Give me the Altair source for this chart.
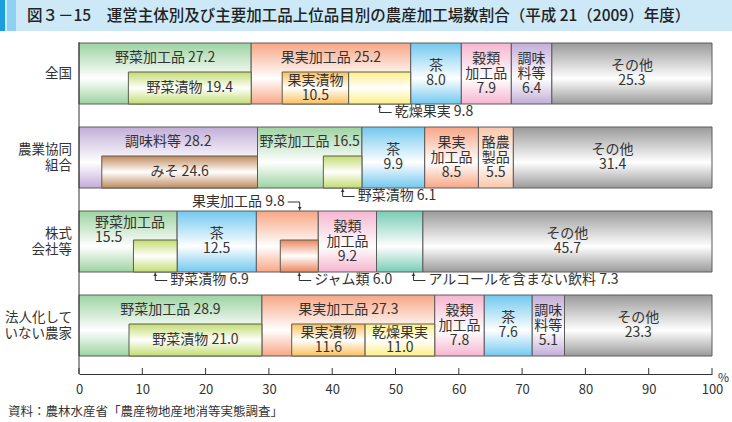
import altair as alt
import pandas as pd

# ---------------- data ----------------
rows = ["全国", "農業協同組合", "株式会社等", "法人化していない農家"]
row_labels = ["全国", "農業協同\n組合", "株式\n会社等", "法人化して\nいない農家"]

seg_names = [
    ["野菜加工品", "果実加工品", "茶", "穀類加工品", "調味料等", "その他"],
    ["調味料等", "野菜加工品", "茶", "果実加工品", "酪農製品", "その他"],
    ["野菜加工品", "茶", "果実加工品", "穀類加工品", "アルコールを含まない飲料", "その他"],
    ["野菜加工品", "果実加工品", "穀類加工品", "茶", "調味料等", "その他"],
]
seg_values = [
    [27.2, 25.2, 8.0, 7.9, 6.4, 25.3],
    [28.2, 16.5, 9.9, 8.5, 5.5, 31.4],
    [15.5, 12.5, 9.8, 9.2, 7.3, 45.7],
    [28.9, 27.3, 7.8, 7.6, 5.1, 23.3],
]
# sub-items drawn inside their parent segment (right aligned)
inner_rows = [0, 0, 0, 1, 1, 2, 2, 3, 3, 3]
inner_parents = ["野菜加工品", "果実加工品", "果実加工品", "調味料等", "野菜加工品",
                 "野菜加工品", "果実加工品", "野菜加工品", "果実加工品", "果実加工品"]
inner_names = ["野菜漬物", "果実漬物", "乾燥果実", "みそ", "野菜漬物",
               "野菜漬物", "ジャム類", "野菜漬物", "果実漬物", "乾燥果実"]
inner_values = [19.4, 10.5, 9.8, 24.6, 6.1, 6.9, 6.0, 21.0, 11.6, 11.0]

tick_values = [0, 10, 20, 30, 40, 50, 60, 70, 80, 90, 100]

title_text = "図３－15　運営主体別及び主要加工品上位品目別の農産加工場数割合（平成 21（2009）年度）"
source_text = "資料：農林水産省「農産物地産地消等実態調査」"

# ---------------- styles ----------------
seg_label_style = [
    ["t", "t", "c", "c", "c", "c"],
    ["t", "t", "c", "c", "c", "c"],
    ["l", "c", "above", "c", "below", "c"],
    ["t", "t", "c", "c", "c", "c"],
]
inner_label_style = ["1", "2", "below", "1", "below", "below", "below", "1", "2", "2"]
callout_frac = {(2, "果実加工品"): 0.7, (2, "アルコールを含まない飲料"): 0.8}
wrap = {"穀類加工品": "穀類\n加工品", "調味料等": "調味\n料等", "果実加工品": "果実\n加工品",
        "酪農製品": "酪農\n製品"}
colors = {
    "野菜加工品": "#9dd3a1", "果実加工品": "#f8a685", "茶": "#72c8ef",
    "穀類加工品": "#f6b5cf", "調味料等": "#c3add8", "その他": "#9a9a9a",
    "酪農製品": "#f9c7a9", "アルコールを含まない飲料": "#78ccb4",
    "野菜漬物": "#c3dc70", "果実漬物": "#fcc05a", "乾燥果実": "#fdef86",
    "みそ": "#bf8a5e", "ジャム類": "#ec8660",
}
FONT = "Noto Sans CJK JP"
TXT = "#333333"
W, H = 633, 332
LH = 15

# ---------------- tables ----------------
outer_rec, lab_rec, call_rec = [], [], []
for r, (names, vals) in enumerate(zip(seg_names, seg_values)):
    s = 0.0
    for k, (n, v) in enumerate(zip(names, vals)):
        e = round(s + v, 3)
        outer_rec.append(dict(row=rows[r], name=n, start=s, end=e))
        st = seg_label_style[r][k]
        vs = f"{v:.1f}"
        if st == "t":
            lab_rec.append(dict(row=rows[r], x=(s + e) / 2, text=f"{n} {vs}", kind="top"))
        elif st == "c":
            lab_rec.append(dict(row=rows[r], x=(s + e) / 2, text=wrap.get(n, n) + "\n" + vs, kind="center"))
        elif st == "l":
            lab_rec.append(dict(row=rows[r], x=s, text=n + "\n" + vs, kind="left"))
        else:
            f = callout_frac.get((r, n), 0.5)
            call_rec.append(dict(row=rows[r], x=s + f * v, text=f"{n} {vs}", dir=st))
        s = e
outer = pd.DataFrame(outer_rec)

inner_rec = []
seg_end = {(o["row"], o["name"]): o["end"] for o in outer_rec}
groups = {}
for i in range(len(inner_names)):
    groups.setdefault((inner_rows[i], inner_parents[i]), []).append(i)
for (r, p), idx in groups.items():
    total = sum(inner_values[i] for i in idx)
    s = seg_end[(rows[r], p)] - total
    for i in idx:
        v = inner_values[i]
        e = s + v
        n = inner_names[i]
        inner_rec.append(dict(row=rows[r], name=n, start=s, end=e))
        st = inner_label_style[i]
        vs = f"{v:.1f}"
        if st == "1":
            lab_rec.append(dict(row=rows[r], x=(s + e) / 2, text=f"{n} {vs}", kind="inner"))
        elif st == "2":
            lab_rec.append(dict(row=rows[r], x=(s + e) / 2, text=n + "\n" + vs, kind="inner"))
        else:
            call_rec.append(dict(row=rows[r], x=(s + e) / 2, text=f"{n} {vs}", dir="below"))
        s = e
inner = pd.DataFrame(inner_rec)
labels = pd.DataFrame(lab_rec)
labels["nl"] = labels["text"].str.count("\n") + 1
callouts = pd.DataFrame(call_rec)

# ---------------- encodings ----------------
xscale = alt.Scale(domain=[0, 100], nice=False, zero=True)
xaxis = alt.Axis(values=tick_values, ticks=False, grid=False, title=None, labelPadding=9,
                 labelFontSize=13, labelFont=FONT, labelColor=TXT, domainColor="#333333",
                 domainWidth=1, labelFlush=False)
yscale = alt.Scale(domain=rows, range=[-10.5, 325.5], paddingInner=0, paddingOuter=0)
Y = alt.Y("row:N", scale=yscale, axis=None)


def X(f):
    return alt.X(f, type="quantitative", scale=xscale, axis=xaxis)


def grad(c, mid):
    return alt.Gradient(gradient="linear", x1=0, x2=0, y1=0, y2=1,
                        stops=[alt.GradientStop(offset=0, color=c),
                               alt.GradientStop(offset=mid, color="#ffffff"),
                               alt.GradientStop(offset=1, color=c)])


layers = []
# title band
dummy = pd.DataFrame({"a": [0]})
layers.append(alt.Chart(dummy).mark_rect(color="#cde9f8").encode(
    x=alt.value(-79), x2=alt.value(653), y=alt.value(-42), y2=alt.value(-11)))
layers.append(alt.Chart(dummy).mark_rect(color="#1b9fdc").encode(
    x=alt.value(-79), x2=alt.value(-74), y=alt.value(-42), y2=alt.value(-11)))
layers.append(alt.Chart(dummy).mark_rect(color="#8fd1f0").encode(
    x=alt.value(-72), x2=alt.value(-63), y=alt.value(-42), y2=alt.value(-11)))
layers.append(alt.Chart(dummy).mark_text(align="left", baseline="middle", font=FONT, fontSize=15.5,
                                         fontWeight=500, color="#222222").encode(
    x=alt.value(-52), y=alt.value(-26), text=alt.value(title_text)))

# outer bars
for n in outer["name"].unique():
    sub = outer[outer["name"] == n]
    layers.append(alt.Chart(sub).mark_bar(size=61, fill=grad(colors[n], 0.58), stroke="#5c5c5c",
                                          strokeWidth=1).encode(x=X("start"), x2="end", y=Y))
# inner bars
for n in inner["name"].unique():
    sub = inner[inner["name"] == n]
    layers.append(alt.Chart(sub).mark_bar(size=32, yOffset=14.5, fill=grad(colors[n], 0.5),
                                          stroke="#5c5c4c", strokeWidth=1).encode(x=X("start"), x2="end", y=Y))

# labels (multi-line blocks centred vertically)
tstyle = dict(font=FONT, fontSize=14, color=TXT, baseline="middle", lineHeight=LH, lineBreak="\n")
for kind, base in [("top", dict(align="center", yOffset=-15.5)),
                   ("center", dict(align="center", yOffset=0)),
                   ("left", dict(align="left", dx=16, yOffset=-11)),
                   ("inner", dict(align="center", yOffset=14.5))]:
    sk = labels[labels["kind"] == kind]
    for nl in sorted(sk["nl"].unique()):
        sub = sk[sk["nl"] == nl]
        extra = dict(base)
        extra["yOffset"] = base["yOffset"] - (nl - 1) * LH / 2
        layers.append(alt.Chart(sub).mark_text(**tstyle, **extra).encode(x=X("x"), y=Y, text="text:N"))

# callouts
below = callouts[callouts["dir"] == "below"]
above = callouts[callouts["dir"] == "above"]
lc = "#333333"
layers += [
    alt.Chart(below).mark_rule(color=lc, strokeWidth=1, yOffset=31, y2Offset=39).encode(x=X("x"), y=Y, y2=alt.Y2("row")),
    alt.Chart(below).mark_rule(color=lc, strokeWidth=1, yOffset=39, x2Offset=12).encode(x=X("x"), x2=alt.X2("x"), y=Y),
    alt.Chart(below).mark_point(shape="triangle-up", filled=True, color=lc, size=14, opacity=1, yOffset=33).encode(x=X("x"), y=Y),
    alt.Chart(below).mark_text(**tstyle, align="left", dx=15, yOffset=38).encode(x=X("x"), y=Y, text="text:N"),
    alt.Chart(above).mark_rule(color=lc, strokeWidth=1, yOffset=-31, y2Offset=-39.5).encode(x=X("x"), y=Y, y2=alt.Y2("row")),
    alt.Chart(above).mark_rule(color=lc, strokeWidth=1, yOffset=-39.5, x2Offset=-12).encode(x=X("x"), x2=alt.X2("x"), y=Y),
    alt.Chart(above).mark_point(shape="triangle-down", filled=True, color=lc, size=14, opacity=1, yOffset=-33).encode(x=X("x"), y=Y),
    alt.Chart(above).mark_text(**tstyle, align="right", dx=-15, yOffset=-39.5).encode(x=X("x"), y=Y, text="text:N"),
]

# upward ticks
ticks = pd.DataFrame({"t": tick_values})
layers.append(alt.Chart(ticks).mark_rule(color="#333333", strokeWidth=1).encode(
    x=X("t"), y=alt.value(H - 6), y2=alt.value(H)))
# left line
layers.append(alt.Chart(dummy).mark_rule(color="#333333", strokeWidth=1).encode(
    x=alt.value(0), y=alt.value(0), y2=alt.value(H)))

# row labels
rl = pd.DataFrame({"row": rows, "label": row_labels})
rl["nl"] = rl["label"].str.count("\n") + 1
for nl in sorted(rl["nl"].unique()):
    sub = rl[rl["nl"] == nl]
    layers.append(alt.Chart(sub).mark_text(font=FONT, fontSize=13.5, color=TXT, align="right",
                                           baseline="middle", lineHeight=16, lineBreak="\n",
                                           yOffset=-(nl - 1) * 8).encode(
        x=alt.value(-7), y=Y, text="label:N"))
# % and source
layers.append(alt.Chart(dummy).mark_text(font=FONT, fontSize=12, color=TXT, align="left",
                                         baseline="middle").encode(
    x=alt.value(639), y=alt.value(H + 4), text=alt.value("%")))
layers.append(alt.Chart(dummy).mark_text(font=FONT, fontSize=12.5, color=TXT, align="left",
                                         baseline="middle").encode(
    x=alt.value(-71), y=alt.value(H + 38), text=alt.value(source_text)))

chart = alt.layer(*layers).properties(
    width=W, height=H,
    autosize=alt.AutoSizeParams(type="none"),
    padding={"left": 79, "top": 42, "right": 20, "bottom": 48},
    background="white",
).configure_view(stroke=None)

chart.save("out.html", embed_options={"renderer": "svg", "actions": False})
